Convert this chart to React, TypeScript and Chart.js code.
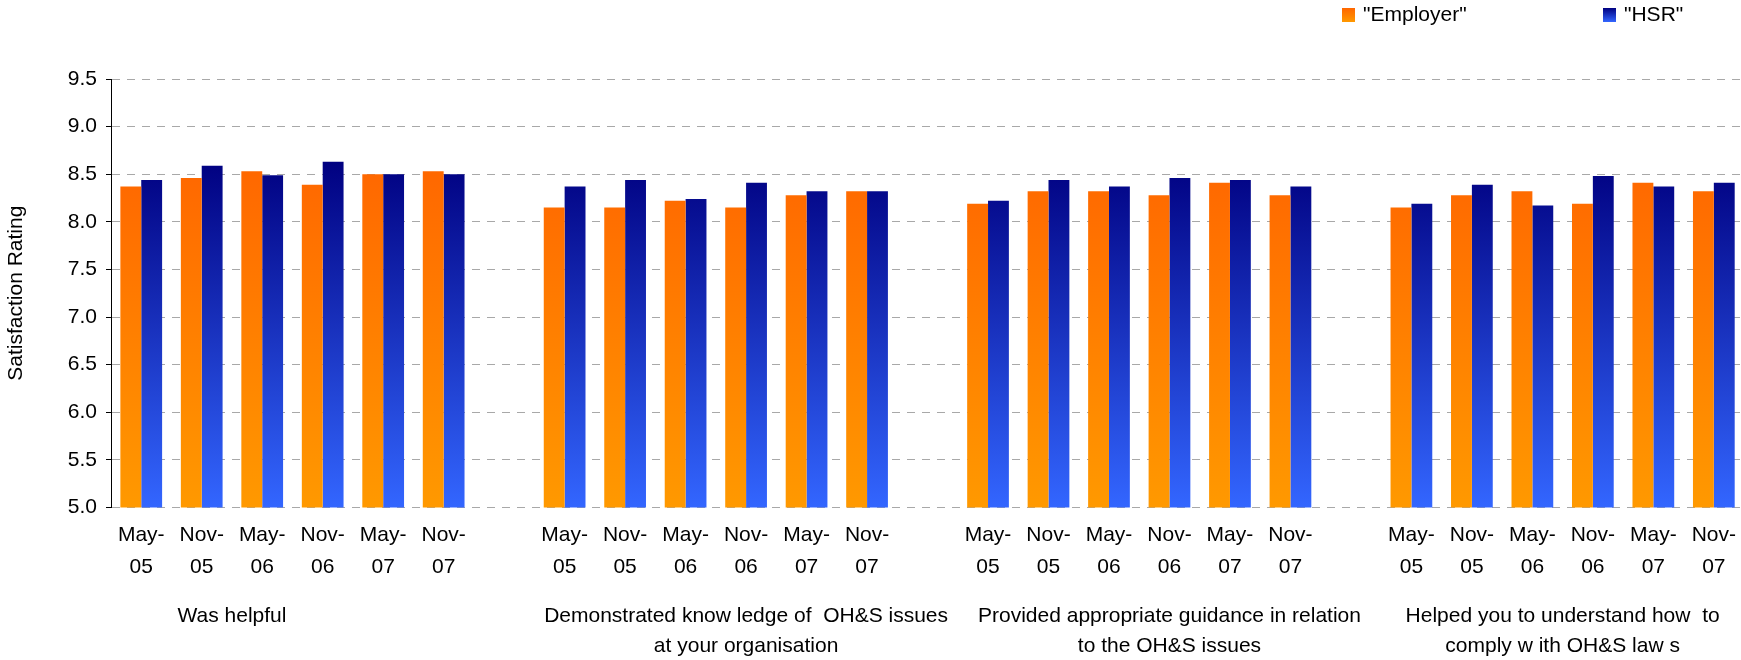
import React, { useEffect, useRef } from "react";
import { Chart, registerables } from "chart.js";

Chart.register(...registerables);

const FONT = '"Liberation Sans", Arial, Helvetica, sans-serif';

// Category (time period) tick labels, two lines each
const periods: string[][] = [
  ["May-", "05"],
  ["Nov-", "05"],
  ["May-", "06"],
  ["Nov-", "06"],
  ["May-", "07"],
  ["Nov-", "07"],
];

// Group labels (shown under the period labels)
const groupNames: string[][] = [
  ["Was helpful"],
  ["Demonstrated know ledge of  OH&S issues", "at your organisation"],
  ["Provided appropriate guidance in relation", "to the OH&S issues"],
  ["Helped you to understand how  to", "comply w ith OH&S law s"],
];
// Where each group label is centred, in category-index units
const groupLabelIndex: number[] = [1.5, 10, 17, 23.5];

// "Employer" ratings per group
const employerHelpful = [8.37, 8.46, 8.53, 8.39, 8.5, 8.53];
const employerKnowledge = [8.15, 8.15, 8.22, 8.15, 8.28, 8.32];
const employerGuidance = [8.19, 8.32, 8.32, 8.28, 8.41, 8.28];
const employerComply = [8.15, 8.28, 8.32, 8.19, 8.41, 8.32];

// "HSR" ratings per group
const hsrHelpful = [8.44, 8.59, 8.49, 8.63, 8.5, 8.5];
const hsrKnowledge = [8.37, 8.44, 8.24, 8.41, 8.32, 8.32];
const hsrGuidance = [8.22, 8.44, 8.37, 8.46, 8.44, 8.37];
const hsrComply = [8.19, 8.39, 8.17, 8.48, 8.37, 8.41];

const yTicks = [5.0, 5.5, 6.0, 6.5, 7.0, 7.5, 8.0, 8.5, 9.0, 9.5];

const seriesNames = ['"Employer"', '"HSR"'];

function flatten<T>(groups: T[][], gap: T): T[] {
  const out: T[] = [];
  groups.forEach((g, i) => {
    out.push(...g);
    if (i < groups.length - 1) out.push(gap);
  });
  return out;
}

const labels: (string | string[])[] = flatten<string | string[]>(
  [periods, periods, periods, periods],
  ""
);
const employerData = flatten<number | null>(
  [employerHelpful, employerKnowledge, employerGuidance, employerComply],
  null
);
const hsrData = flatten<number | null>(
  [hsrHelpful, hsrKnowledge, hsrGuidance, hsrComply],
  null
);

const ORANGE = ["#FF6600", "#FF9900"];
const BLUE = ["#000080", "#3366FF"];

function makeGradient(chart: any, stops: string[]) {
  const { ctx, chartArea, scales } = chart;
  if (!chartArea || !scales.y) return stops[0];
  const top = scales.y.getPixelForValue(8.65);
  const bottom = scales.y.getPixelForValue(5.0);
  const g = ctx.createLinearGradient(0, top, 0, bottom);
  g.addColorStop(0, stops[0]);
  g.addColorStop(1, stops[1]);
  return g;
}

const overlayPlugin = {
  id: "overlay",
  afterDraw(chart: any) {
    const { ctx, chartArea } = chart;
    const xs = chart.scales.x;
    const p0 = xs.getPixelForValue(0);
    const p1 = xs.getPixelForValue(1);
    const slot = p1 - p0;
    ctx.save();
    ctx.font = `21px ${FONT}`;
    ctx.fillStyle = "#000";
    ctx.textAlign = "center";
    ctx.textBaseline = "alphabetic";
    groupNames.forEach((lines, g) => {
      const x = p0 + groupLabelIndex[g] * slot;
      lines.forEach((t, li) => {
        ctx.fillText(t, x, chartArea.bottom + 115 + li * 30);
      });
    });

    // legend
    const legendX = [1342, 1603];
    const colors = [ORANGE, BLUE];
    ctx.textAlign = "left";
    seriesNames.forEach((name, i) => {
      const g = ctx.createLinearGradient(0, 8, 0, 22);
      g.addColorStop(0, colors[i][0]);
      g.addColorStop(1, colors[i][1]);
      ctx.fillStyle = g;
      ctx.fillRect(legendX[i], 8, 13, 14);
      ctx.fillStyle = "#000";
      ctx.fillText(name, legendX[i] + 21, 21);
    });
    ctx.restore();
  },
};

export default function App() {
  const ref = useRef<HTMLCanvasElement | null>(null);

  useEffect(() => {
    if (!ref.current) return;
    const chart = new Chart(ref.current, {
      type: "bar",
      data: {
        labels,
        datasets: [
          {
            label: seriesNames[0],
            data: employerData,
            backgroundColor: (c: any) => makeGradient(c.chart, ORANGE),
            borderWidth: 0,
            categoryPercentage: 0.69,
            barPercentage: 1.0,
          },
          {
            label: seriesNames[1],
            data: hsrData,
            backgroundColor: (c: any) => makeGradient(c.chart, BLUE),
            borderWidth: 0,
            categoryPercentage: 0.69,
            barPercentage: 1.0,
          },
        ],
      },
      options: {
        animation: false,
        responsive: true,
        maintainAspectRatio: false,
        layout: { padding: { top: 79, left: 0, right: 0, bottom: 0 } },
        plugins: {
          legend: { display: false },
          tooltip: { enabled: false },
          title: { display: false },
        },
        scales: {
          x: {
            grid: { display: false, drawTicks: false },
            border: { display: false },
            ticks: {
              autoSkip: false,
              maxRotation: 0,
              minRotation: 0,
              padding: 12,
              color: "#000",
              font: { family: FONT, size: 21, lineHeight: 32 / 21 },
            },
            afterFit: (s: any) => {
              s.height = 152.6;
            },
          },
          y: {
            min: 5,
            max: 9.5,
            afterBuildTicks: (s: any) => {
              s.ticks = yTicks.map((v) => ({ value: v }));
            },
            afterFit: (s: any) => {
              s.width = 111;
            },
            grid: {
              color: "#a8a8a8",
              lineWidth: 1,
              drawTicks: true,
              tickLength: 5,
              tickColor: "#000",
              tickBorderDash: [],
            },
            border: { display: true, color: "#000", width: 1, dash: [8, 7] },
            ticks: {
              padding: 9,
              color: "#000",
              font: { family: FONT, size: 21 },
              callback: (v: any) => Number(v).toFixed(1),
            },
            title: {
              display: true,
              text: "Satisfaction Rating",
              color: "#000",
              font: { family: FONT, size: 21 },
              padding: { top: 4, bottom: 4 },
            },
          },
        },
      },
      plugins: [overlayPlugin],
    } as any);
    return () => chart.destroy();
  }, []);

  return (
    <div
      style={{
        position: "fixed",
        left: 0,
        top: 0,
        width: 1741,
        height: 660,
        overflow: "hidden",
        background: "#fff",
      }}
    >
      <div style={{ position: "relative", width: 1748, height: 660 }}>
        <canvas ref={ref} />
      </div>
    </div>
  );
}
